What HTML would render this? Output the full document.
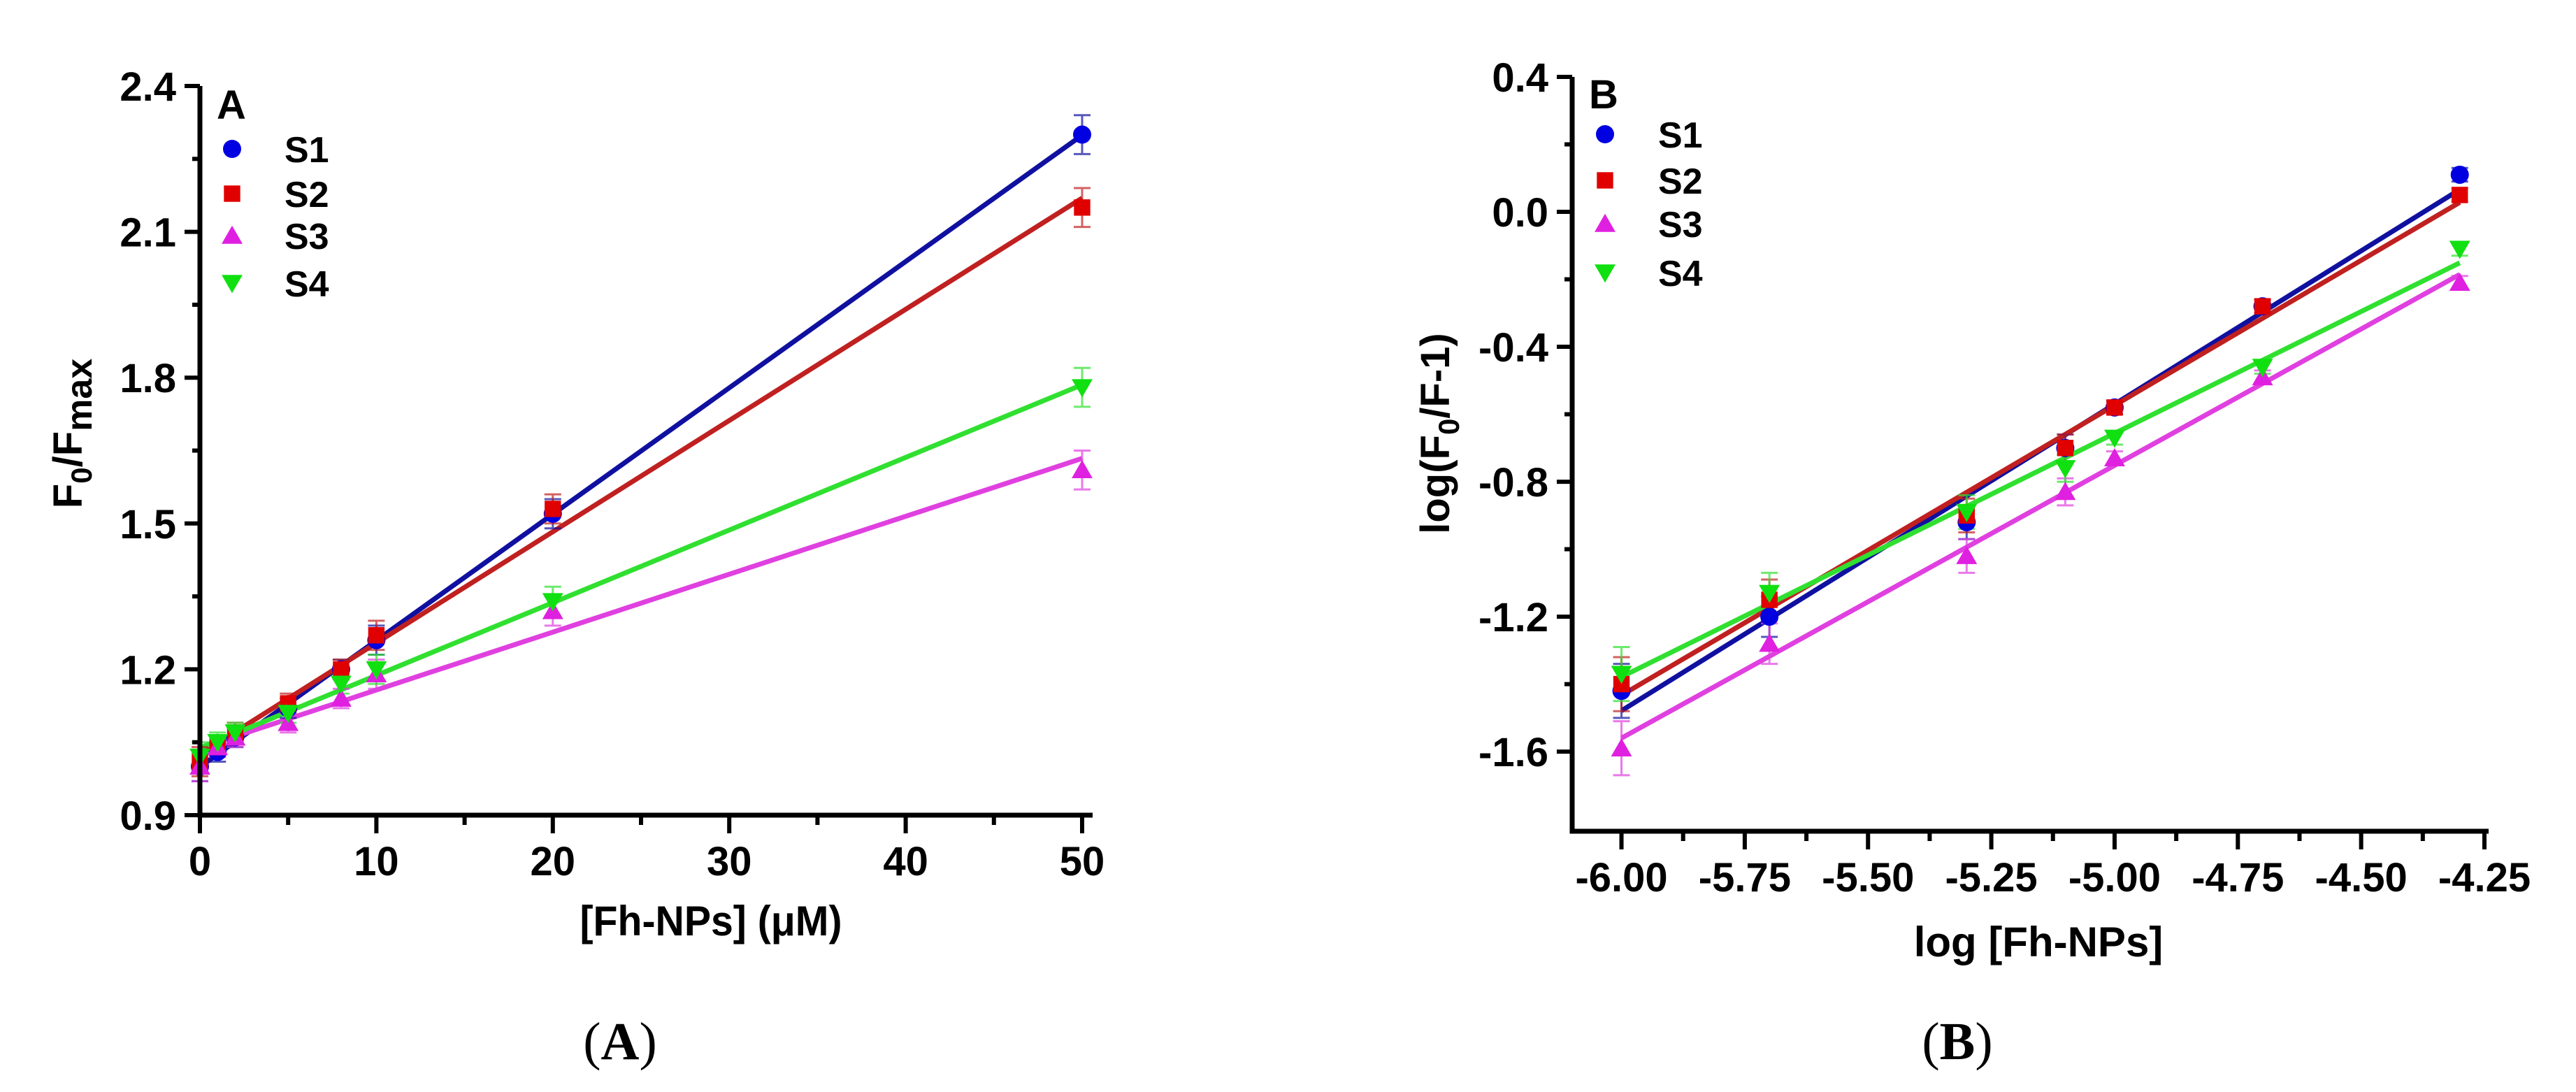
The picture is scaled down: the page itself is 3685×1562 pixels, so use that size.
<!DOCTYPE html>
<html><head><meta charset="utf-8"><style>
html,body{margin:0;padding:0;background:#fff;}
svg{display:block;}
</style></head><body>
<svg id="fig" width="3685" height="1562" viewBox="0 0 3685 1562" xmlns="http://www.w3.org/2000/svg"></svg>
<script>
// ---------- Panel A data ----------
const aX = [0, 1, 2, 5, 8, 10, 20, 50];
const aS1 = [1.00, 1.03, 1.06, 1.12, 1.20, 1.26, 1.52, 2.30];
const aS2 = [1.01, 1.04, 1.07, 1.13, 1.20, 1.27, 1.53, 2.15];
const aS3 = [1.00, 1.04, 1.06, 1.09, 1.14, 1.19, 1.32, 1.61];
const aS4 = [1.02, 1.05, 1.07, 1.11, 1.17, 1.20, 1.34, 1.78];
const aErr = [0.03, 0.02, 0.02, 0.02, 0.02, 0.03, 0.03, 0.04];
const aXTicks = [0, 10, 20, 30, 40, 50];
const aYTicks = [0.9, 1.2, 1.5, 1.8, 2.1, 2.4];
// ---------- Panel B data ----------
const bX = [-6.0, -5.7, -5.3, -5.1, -5.0, -4.7, -4.3];
const bS1 = [-1.42, -1.20, -0.92, -0.70, -0.58, -0.28, 0.11];
const bS2 = [-1.40, -1.15, -0.90, -0.70, -0.58, -0.28, 0.05];
const bS3 = [-1.59, -1.28, -1.02, -0.83, -0.73, -0.49, -0.21];
const bS4 = [-1.37, -1.13, -0.89, -0.76, -0.67, -0.46, -0.11];
const bErr = [0.08, 0.06, 0.05, 0.04, 0.02, 0.02, 0.02];
const bXTicks = [-6.00, -5.75, -5.50, -5.25, -5.00, -4.75, -4.50, -4.25];
const bYTicks = [-1.6, -1.2, -0.8, -0.4, 0.0, 0.4];
const seriesNames = ['S1', 'S2', 'S3', 'S4'];

const NS = 'http://www.w3.org/2000/svg';
const svg = document.getElementById('fig');
const COLORS = ['#0000e0', '#e00000', '#e020e0', '#10e010'];
const LINECOLORS = ['#1010a0', '#c02020', '#e040e0', '#30e030'];
const SHAPES = ['circle', 'square', 'up', 'down'];
const FONT = '"Liberation Sans", Arial, sans-serif';

function el(tag, attrs, parent) {
  const e = document.createElementNS(NS, tag);
  for (const k in attrs) e.setAttribute(k, attrs[k]);
  (parent || svg).appendChild(e);
  return e;
}
function fit(xs, ys) {
  const n = xs.length; let sx = 0, sy = 0, sxx = 0, sxy = 0;
  for (let i = 0; i < n; i++) { sx += xs[i]; sy += ys[i]; sxx += xs[i]*xs[i]; sxy += xs[i]*ys[i]; }
  const m = (n*sxy - sx*sy) / (n*sxx - sx*sx);
  return [m, (sy - m*sx)/n];
}
function marker(g, shape, cx, cy, r, color, name) {
  let m;
  if (shape === 'circle') m = el('circle', {cx, cy, r, fill: color}, g);
  else if (shape === 'square') m = el('rect', {x: cx-r*0.9, y: cy-r*0.9, width: r*1.8, height: r*1.8, fill: color}, g);
  else if (shape === 'up') m = el('polygon', {points: `${cx},${cy-r*1.1} ${cx-r*1.15},${cy+r*0.9} ${cx+r*1.15},${cy+r*0.9}`, fill: color}, g);
  else m = el('polygon', {points: `${cx},${cy+r*1.1} ${cx-r*1.15},${cy-r*0.9} ${cx+r*1.15},${cy-r*0.9}`, fill: color}, g);
  
  
  return m;
}

function panel(cfg) {
  const g = el('g', {});
  
  
  const sx = v => cfg.x0 + (v - cfg.xv0) * (cfg.x1 - cfg.x0) / (cfg.xv1 - cfg.xv0);
  const sy = v => cfg.y0 + (v - cfg.yv0) * (cfg.y1 - cfg.y0) / (cfg.yv1 - cfg.yv0);
  cfg.series.forEach((ys, i) => {
    const [m, b] = fit(cfg.xs, ys);
    const xa = cfg.xs[0], xb = cfg.xs[cfg.xs.length-1];
    const ln = el('line', {x1: sx(xa), y1: sy(m*xa+b), x2: sx(xb), y2: sy(m*xb+b), stroke: LINECOLORS[i], 'stroke-width': 7}, g);
    
    
  });
  cfg.series.forEach((ys, i) => {
    ys.forEach((v, j) => {
      const e = cfg.err[j], x = sx(cfg.xs[j]);
      const eb = el('path', {d: `M${x},${sy(v+e)}V${sy(v-e)}M${x-12},${sy(v+e)}H${x+12}M${x-12},${sy(v-e)}H${x+12}`, stroke: LINECOLORS[i], 'stroke-width': 3, fill: 'none', opacity: 0.7}, g);
      
      
    });
  });
  cfg.series.forEach((ys, i) => {
    ys.forEach((v, j) => marker(g, SHAPES[i], sx(cfg.xs[j]), sy(v), 13, COLORS[i], 'point-' + seriesNames[i].toLowerCase()));
  });
  const ax = el('path', {d: `M${cfg.x0},${cfg.yTop}V${cfg.y0}H${cfg.xEnd}`, stroke: '#000', 'stroke-width': 7, fill: 'none'}, g);
  
  
  for (let k = 0; k < cfg.yTicks.length; k++) {
    const v = cfg.yTicks[k], y = sy(v);
    el('line', {x1: cfg.x0 - 22, y1: y, x2: cfg.x0, y2: y, stroke: '#000', 'stroke-width': 6}, g);
    if (k < cfg.yTicks.length - 1) {
      const ym = sy((v + cfg.yTicks[k+1]) / 2);
      el('line', {x1: cfg.x0 - 11, y1: ym, x2: cfg.x0, y2: ym, stroke: '#000', 'stroke-width': 6}, g);
    }
    const t = el('text', {x: cfg.x0 - 34, y: y + 21, 'text-anchor': 'end', 'font-family': FONT, 'font-weight': 'bold', 'font-size': 58}, g);
    t.textContent = v.toFixed(cfg.yDec);
    
    
  }
  for (let k = 0; k < cfg.xTicks.length; k++) {
    const v = cfg.xTicks[k], x = sx(v);
    el('line', {x1: x, y1: cfg.y0, x2: x, y2: cfg.y0 + 26, stroke: '#000', 'stroke-width': 6}, g);
    if (k < cfg.xTicks.length - 1) {
      const xm = sx((v + cfg.xTicks[k+1]) / 2);
      el('line', {x1: xm, y1: cfg.y0, x2: xm, y2: cfg.y0 + 14, stroke: '#000', 'stroke-width': 6}, g);
    }
    const t = el('text', {x: x, y: cfg.y0 + 86, 'text-anchor': 'middle', 'font-family': FONT, 'font-weight': 'bold', 'font-size': 58}, g);
    t.textContent = v.toFixed(cfg.xDec);
    
    
  }
  const pl = el('text', {x: cfg.x0 + 24, y: cfg.letterY, 'font-family': FONT, 'font-weight': 'bold', 'font-size': 58}, g);
  pl.textContent = cfg.letter;
  
  
  seriesNames.forEach((n, i) => {
    const lg = el('g', {}, g);
    
    
    marker(lg, SHAPES[i], cfg.legX, cfg.legY[i], 13, COLORS[i], 'legend-marker');
    const t = el('text', {x: cfg.legTX, y: cfg.legY[i] + 19, 'font-family': FONT, 'font-weight': 'bold', 'font-size': 52}, lg);
    t.textContent = n;
  });
  return g;
}

panel({id: 'panel-a', x0: 286, x1: 1548, xv0: 0, xv1: 50, xEnd: 1563, y0: 1166, y1: 123, yv0: 0.9, yv1: 2.4, yTop: 123,
  xs: aX, series: [aS1, aS2, aS3, aS4], err: aErr, xTicks: aXTicks, yTicks: aYTicks, xDec: 0, yDec: 1,
  letter: 'A', letterY: 170, legX: 332, legY: [213, 277, 337, 405], legTX: 407});
panel({id: 'panel-b', x0: 2249, x1: 3554, xv0: -6.1, xv1: -4.25, xEnd: 3560, y0: 1189, y1: 110, yv0: -1.836, yv1: 0.4, yTop: 110,
  xs: bX, series: [bS1, bS2, bS3, bS4], err: bErr, xTicks: bXTicks, yTicks: bYTicks, xDec: 2, yDec: 1,
  letter: 'B', letterY: 155, legX: 2296, legY: [192, 258, 320, 390], legTX: 2372});

function txt(attrs, html, name) {
  const t = el('text', attrs);
  t.innerHTML = html;
  
  
  return t;
}
txt({x: 117, y: 620, transform: 'rotate(-90 117 620)', 'text-anchor': 'middle', 'font-family': FONT, 'font-weight': 'bold', 'font-size': 58},
  'F<tspan dy="14" font-size="42">0</tspan><tspan dy="-14">/F</tspan><tspan dy="14" font-size="52">max</tspan>', 'y-axis-title-a');
txt({x: 1017, y: 1338, 'text-anchor': 'middle', 'font-family': FONT, 'font-weight': 'bold', 'font-size': 60, textLength: 375, lengthAdjust: 'spacingAndGlyphs'},
  '[Fh-NPs] (μM)', 'x-axis-title-a');
txt({x: 2073, y: 620, transform: 'rotate(-90 2073 620)', 'text-anchor': 'middle', 'font-family': FONT, 'font-weight': 'bold', 'font-size': 58},
  'log(F<tspan dy="14" font-size="42">0</tspan><tspan dy="-14">/F-1)</tspan>', 'y-axis-title-b');
txt({x: 2916, y: 1368, 'text-anchor': 'middle', 'font-family': FONT, 'font-weight': 'bold', 'font-size': 60},
  'log [Fh-NPs]', 'x-axis-title-b');
txt({x: 887, y: 1515, 'text-anchor': 'middle', 'font-family': '"Liberation Serif", serif', 'font-size': 76},
  '(<tspan font-weight="bold">A</tspan>)', 'caption-a');
txt({x: 2800, y: 1515, 'text-anchor': 'middle', 'font-family': '"Liberation Serif", serif', 'font-size': 76},
  '(<tspan font-weight="bold">B</tspan>)', 'caption-b');
</script>
</body></html>
